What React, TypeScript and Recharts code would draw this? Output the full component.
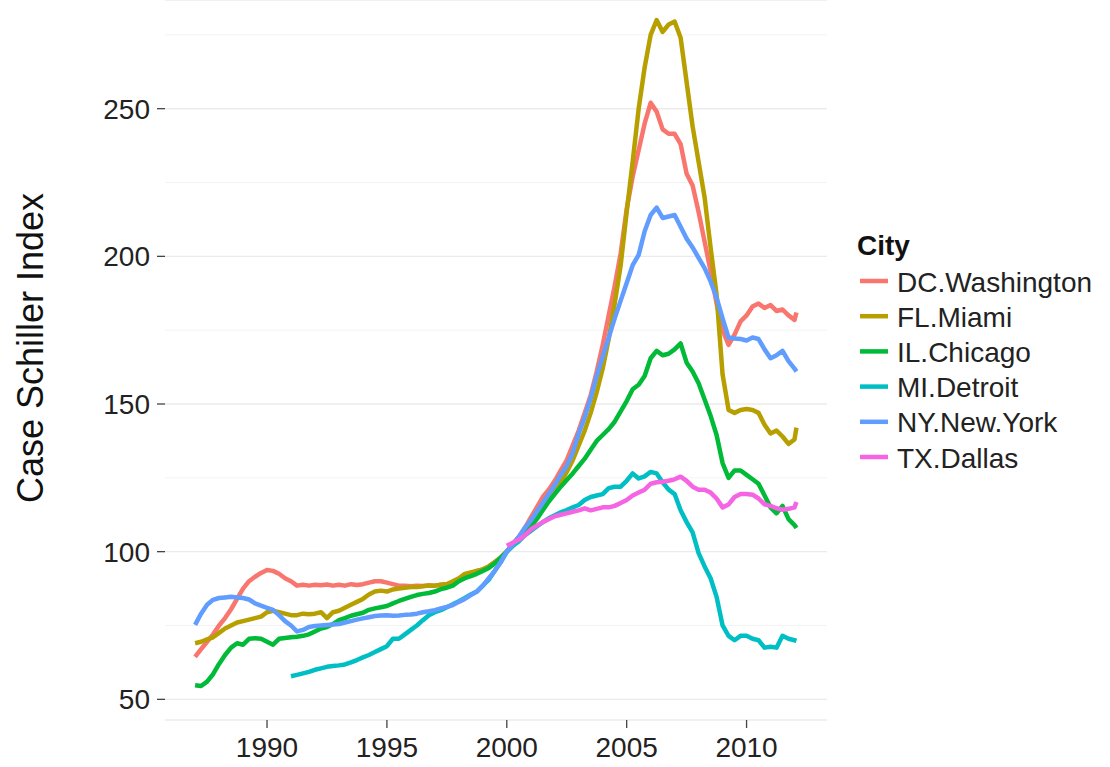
import React from 'react';
import { LineChart, Line, XAxis, YAxis, CartesianGrid, ReferenceLine } from 'recharts';

// quarterly sample points (decimal years)
const years = [
  1987, 1987.25, 1987.5, 1987.75, 1988, 1988.25, 1988.5, 1988.75,
  1989, 1989.25, 1989.5, 1989.75, 1990, 1990.25, 1990.5, 1990.75,
  1991, 1991.25, 1991.5, 1991.75, 1992, 1992.25, 1992.5, 1992.75,
  1993, 1993.25, 1993.5, 1993.75, 1994, 1994.25, 1994.5, 1994.75,
  1995, 1995.25, 1995.5, 1995.75, 1996, 1996.25, 1996.5, 1996.75,
  1997, 1997.25, 1997.5, 1997.75, 1998, 1998.25, 1998.5, 1998.75,
  1999, 1999.25, 1999.5, 1999.75, 2000, 2000.25, 2000.5, 2000.75,
  2001, 2001.25, 2001.5, 2001.75, 2002, 2002.25, 2002.5, 2002.75,
  2003, 2003.25, 2003.5, 2003.75, 2004, 2004.25, 2004.5, 2004.75,
  2005, 2005.25, 2005.5, 2005.75, 2006, 2006.25, 2006.5, 2006.75,
  2007, 2007.25, 2007.5, 2007.75, 2008, 2008.25, 2008.5, 2008.75,
  2009, 2009.25, 2009.5, 2009.75, 2010, 2010.25, 2010.5, 2010.75,
  2011, 2011.25, 2011.5, 2011.75, 2012, 2012.08,
];

const washington = [
  64.4, 67, 69.5, 72, 75, 77.5, 80.5, 84,
  87.5, 90, 91.5, 92.8, 93.8, 93.5, 92.5, 91,
  90, 88.5, 88.8, 88.5, 88.8, 88.6, 88.9, 88.5,
  88.8, 88.5, 89, 88.7, 89, 89.5, 90, 90,
  89.5, 89, 88.5, 88.5, 88.3, 88.5, 88.4, 88.6,
  88.5, 88.8, 89, 89.5, 90.5, 91.5, 92.5, 93.5,
  94, 95, 96.5, 98, 100, 102.5, 105, 108,
  111.5, 115, 118.5, 121, 124, 127.5, 131, 136,
  141, 147, 153, 161, 170, 180, 190, 201,
  216, 227, 236, 245, 252, 249, 243, 241.5,
  241.5, 238, 228, 224, 215, 205, 195, 184,
  175, 170, 173.5, 178, 180, 183, 184, 182.5,
  183.5, 181.5, 182, 180, 178.5, 181,
];

const miami = [
  69, 69.5, 70.3, 71, 72.5, 74, 75, 76,
  76.5, 77, 77.5, 78, 79.5, 80, 79.5, 79,
  78.5, 78.5, 79, 78.8, 79, 79.5, 77.5, 79.5,
  80, 81, 82, 83, 84, 85.5, 86.5, 86.8,
  86.5, 87.2, 87.5, 87.8, 88, 88, 88.3, 88.5,
  88.5, 88.8, 89, 90, 91, 92.5, 93, 93.5,
  94, 95, 96.5, 98, 100, 102, 104.5, 107,
  109.5, 112.5, 115.5, 118, 120.5, 123.5, 127, 131,
  136, 141, 147, 154, 162, 172, 184, 197,
  215, 232, 250, 264, 275, 280, 276, 278.5,
  279.5, 274, 259, 244, 232, 220, 203, 187,
  160, 148, 147, 148, 148.3, 148, 147, 143,
  140, 141, 139, 136.5, 138, 142,
];

const chicago = [
  54.8, 54.5, 56, 58.5, 62, 65, 67.5, 69,
  68.5, 70.5, 70.7, 70.5, 69.5, 68.5, 70.5, 70.8,
  71, 71.2, 71.5, 72, 73, 74, 74.5, 75.5,
  76.8, 77.5, 78.3, 78.8, 79.3, 80.3, 80.8, 81.2,
  81.6, 82.5, 83.3, 84, 84.7, 85.3, 85.7, 86,
  86.5, 87.3, 87.8, 88.5, 90, 91, 91.7, 92.5,
  93.5, 94.5, 96, 98, 100, 102, 104, 106.5,
  108.5, 111, 114, 117, 119.5, 122, 124.3, 126.5,
  129, 131.5, 134.5, 137.5, 139.5, 141.5, 144, 147.5,
  151, 155, 156.5, 159.5, 165.5, 168, 166.5, 167,
  168.5, 170.5, 164, 161, 157, 151.5, 146, 139.5,
  130, 125, 127.5, 127.5, 126, 124.5, 123, 119,
  115, 113, 115.5, 111, 109, 108,
];

// Detroit series begins in 1991
const detroit = [
  57.8, 58.3, 58.8, 59.3, 60, 60.5, 61, 61.3,
  61.5, 61.8, 62.5, 63.3, 64.2, 65, 66, 67,
  68, 70.5, 70.5, 72, 73.5, 75, 76.8, 78.5,
  79.5, 80.2, 81.2, 82.2, 83.2, 84.3, 85.5, 86.5,
  88.5, 90.5, 93.5, 96.5, 100, 102, 103.5, 105.5,
  107, 108.5, 110, 111.3, 112.3, 113.3, 114.1, 115,
  115.8, 117.5, 118.5, 119, 119.5, 121.5, 122, 122,
  124, 126.5, 124.8, 125.5, 127, 126.5, 123.5, 121,
  119.5, 114, 110, 106.5, 99.5, 95, 91, 84.7,
  75, 71.5, 70, 71.5, 71.5, 70.5, 70, 67.5,
  67.8, 67.5, 71.5, 70.5, 70, 69.8,
];

const newYork = [
  75.2, 79, 82, 83.7, 84.3, 84.5, 84.7, 84.5,
  84.3, 83.8, 82.5, 81.7, 81, 80.3, 78.5, 76.5,
  75, 73, 73.5, 74.5, 74.8, 75, 75.2, 75.3,
  75.5, 76, 76.5, 77, 77.4, 77.8, 78.2, 78.4,
  78.5, 78.3, 78.4, 78.6, 78.7, 79, 79.5, 79.8,
  80.2, 80.8, 81.3, 81.9, 83, 84, 85.3, 86.5,
  88.5, 91, 93.5, 96.5, 100, 102.5, 105, 108,
  110.5, 113.5, 116.5, 119.5, 122.5, 126, 129, 133.5,
  140, 145.5, 152, 159.5, 166, 172.5, 179, 185,
  191, 197, 200.5, 208.5, 214, 216.5, 213, 213.5,
  214, 210, 206, 203, 199.5, 196, 191.5, 186,
  179, 172.5, 172.2, 172, 171.5, 172.5, 172, 168.5,
  165.5, 166.5, 168, 164.5, 162, 161,
];

// Dallas series begins in 2000
const dallas = [
  102, 103, 104, 105.5, 107.5, 108.8, 110, 111,
  112, 112.5, 113, 113.5, 114, 114.7, 114, 114.5,
  115, 115, 115.5, 116.5, 117.5, 119, 120, 121,
  123, 123.5, 123.7, 124, 124.5, 125.4, 124, 122,
  121, 121, 120, 118, 115, 116, 118.5, 119.5,
  119.5, 119.3, 118, 116, 115.5, 114.7, 114.2, 114.5,
  115, 116.8,
];

const cities = [
  { key: 'dc', name: 'DC.Washington', color: '#F8766D', start: 1987, values: washington },
  { key: 'fl', name: 'FL.Miami', color: '#B79F00', start: 1987, values: miami },
  { key: 'il', name: 'IL.Chicago', color: '#00BA38', start: 1987, values: chicago },
  { key: 'mi', name: 'MI.Detroit', color: '#00BFC4', start: 1991, values: detroit },
  { key: 'ny', name: 'NY.New.York', color: '#619CFF', start: 1987, values: newYork },
  { key: 'tx', name: 'TX.Dallas', color: '#F564E3', start: 2000, values: dallas },
];

const xTicks = [1990, 1995, 2000, 2005, 2010];
const yTicks = [50, 100, 150, 200, 250];
const yMinor = [75, 125, 175, 225, 275];

const chartData = years.map((t, i) => {
  const row: Record<string, number | null> = { t };
  cities.forEach((c) => {
    const k = years.indexOf(c.start);
    row[c.key] = i >= k ? c.values[i - k] : null;
  });
  return row;
});

const FONT = '"Liberation Sans", Arial, Helvetica, sans-serif';
const tickStyle = { fontSize: 28, fill: '#222', fontFamily: FONT };

export default function App() {
  return (
    <div style={{ position: 'absolute', left: 0, top: 0, width: 1110, height: 767, background: '#fff' }}>
      <LineChart width={1110} height={767} data={chartData} margin={{ top: 0, right: 283, bottom: 0, left: 0 }}>
        <CartesianGrid vertical={false} stroke="#ebebeb" strokeWidth={1.4} />
        {yMinor.map((v) => (
          <ReferenceLine key={v} y={v} stroke="#f3f3f3" strokeWidth={1} />
        ))}
        <XAxis
          dataKey="t"
          type="number"
          domain={[1985.745, 2013.355]}
          ticks={xTicks}
          allowDataOverflow
          height={47}
          axisLine={false}
          tickSize={8}
          tickMargin={9}
          tickLine={{ stroke: '#444', strokeWidth: 1.3 }}
          tick={tickStyle}
        />
        <YAxis
          type="number"
          domain={[43, 286.8]}
          ticks={yTicks}
          allowDataOverflow
          width={165}
          axisLine={false}
          tickSize={8}
          tickMargin={7}
          tickLine={{ stroke: '#444', strokeWidth: 1.3 }}
          tick={tickStyle}
        />
        {cities.map((c) => (
          <Line
            key={c.key}
            dataKey={c.key}
            name={c.name}
            type="linear"
            stroke={c.color}
            strokeWidth={4.5}
            strokeLinejoin="round"
            dot={false}
            activeDot={false}
            isAnimationActive={false}
          />
        ))}
      </LineChart>
      <svg width={1110} height={767} style={{ position: 'absolute', left: 0, top: 0, pointerEvents: 'none' }}>
        <text
          x={43}
          y={348}
          transform="rotate(-90, 43, 348)"
          textAnchor="middle"
          fontSize={36}
          fontFamily={FONT}
          fill="#111"
        >
          Case Schiller Index
        </text>
        <text x={857} y={255} fontSize={28} fontWeight="bold" fontFamily={FONT} fill="#111">
          City
        </text>
        {cities.map((c, i) => {
          const y = 281 + i * 35.2;
          return (
            <g key={c.key}>
              <line x1={860} x2={888} y1={y} y2={y} stroke={c.color} strokeWidth={4.5} />
              <text x={897} y={y + 10.5} fontSize={28} fontFamily={FONT} fill="#222">
                {c.name}
              </text>
            </g>
          );
        })}
      </svg>
    </div>
  );
}
